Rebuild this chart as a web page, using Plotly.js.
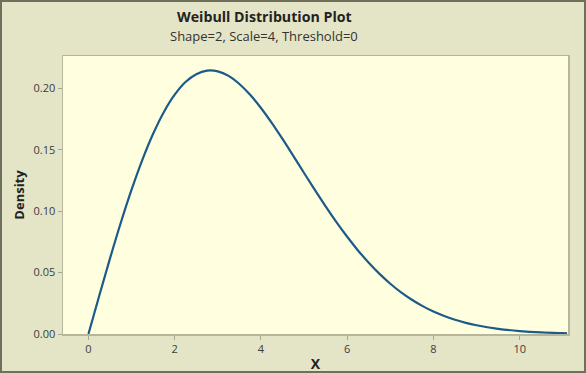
<!DOCTYPE html>
<html>
<head>
<meta charset="utf-8">
<script src="https://cdn.plot.ly/plotly-3.0.1.min.js"></script>
<style>
  html, body { margin: 0; padding: 0; background: #e4e4c6; }
  #wrap { position: relative; width: 586px; height: 373px; }
  #chart { width: 586px; height: 373px; }
  #frame { position: absolute; left: 0; top: 0; width: 582px; height: 369px;
           border: 2px solid #6f6f5c; pointer-events: none; }
</style>
</head>
<body>
<div id="wrap">
  <div id="chart"></div>
  <div id="frame"></div>
</div>
<script>
// Values
const xValues = [0, 0.25, 0.5, 0.75, 1.0, 1.25, 1.5, 1.75, 2.0, 2.25, 2.5, 2.75, 3.0, 3.25, 3.5, 3.75,
  4.0, 4.25, 4.5, 4.75, 5.0, 5.25, 5.5, 5.75, 6.0, 6.25, 6.5, 6.75, 7.0, 7.25, 7.5, 7.75,
  8.0, 8.25, 8.5, 8.75, 9.0, 9.5, 10.0, 10.5, 11.0, 11.1];
const densityValues = [0, 0.0311, 0.0615, 0.0905, 0.1174, 0.1417, 0.1629, 0.1807, 0.1947, 0.2050, 0.2114, 0.2143, 0.2137, 0.2100, 0.2034, 0.1946,
  0.1839, 0.1718, 0.1587, 0.1449, 0.1310, 0.1172, 0.1038, 0.0910, 0.0791, 0.0680, 0.0580, 0.0489, 0.0409, 0.0339, 0.0279, 0.0227,
  0.0183, 0.0147, 0.0116, 0.0091, 0.0071, 0.0042, 0.0024, 0.0013, 0.0007, 0.0006];
const xTicks = [0, 2, 4, 6, 8, 10];
const xTickLabels = ['0', '2', '4', '6', '8', '10'];
const yTicks = [0, 0.05, 0.10, 0.15, 0.20];
const yTickLabels = ['0.00', '0.05', '0.10', '0.15', '0.20'];
const titleText = 'Weibull Distribution Plot';
const subtitleText = 'Shape=2, Scale=4, Threshold=0';

const font = "'Open Sans', 'Noto Sans', sans-serif";

const trace = {
  x: xValues, y: densityValues, type: 'scatter', mode: 'lines',
  line: { color: '#1c5a8a', width: 2.2, shape: 'spline' },
  hoverinfo: 'skip'
};

const layout = {
  width: 586, height: 373,
  paper_bgcolor: '#e4e4c6',
  plot_bgcolor: '#ffffe0',
  margin: { l: 63, r: 18, t: 56, b: 39 },
  showlegend: false,
  font: { family: font, color: '#3a3a3a' },
  xaxis: {
    range: [-0.59, 11.12], tickvals: xTicks, ticktext: xTickLabels,
    showgrid: false, zeroline: false, showline: true, mirror: true,
    linecolor: '#b6b69c', linewidth: 1.5,
    ticks: 'outside', ticklen: 4, tickcolor: '#a8a890', tickwidth: 1,
    tickfont: { size: 11, color: '#3c3c3c', family: font },
    title: { text: '<b>X</b>', font: { size: 14, color: '#222', family: font }, standoff: 8 }
  },
  yaxis: {
    range: [0, 0.2262], tickvals: yTicks, ticktext: yTickLabels,
    showgrid: false, zeroline: false, showline: true, mirror: true,
    linecolor: '#b6b69c', linewidth: 1.5,
    ticks: 'outside', ticklen: 4, tickcolor: '#a8a890', tickwidth: 1,
    tickfont: { size: 11, color: '#3c3c3c', family: font },
    title: { text: '<b>Density</b>', font: { size: 13, color: '#222', family: font }, standoff: 6 }
  },
  annotations: [
    { text: '<b>' + titleText + '</b>', xref: 'paper', yref: 'paper',
      x: (264 - 63) / 505, y: 1 + (56 - 16) / 278, xanchor: 'center', yanchor: 'middle',
      showarrow: false, font: { size: 14.2, color: '#222', family: font } },
    { text: subtitleText, xref: 'paper', yref: 'paper',
      x: (264 - 63) / 505, y: 1 + (56 - 36) / 278, xanchor: 'center', yanchor: 'middle',
      showarrow: false, font: { size: 13, color: '#333', family: font } }
  ]
};

Plotly.newPlot('chart', [trace], layout, { displayModeBar: false, staticPlot: true });
</script>
</body>
</html>
